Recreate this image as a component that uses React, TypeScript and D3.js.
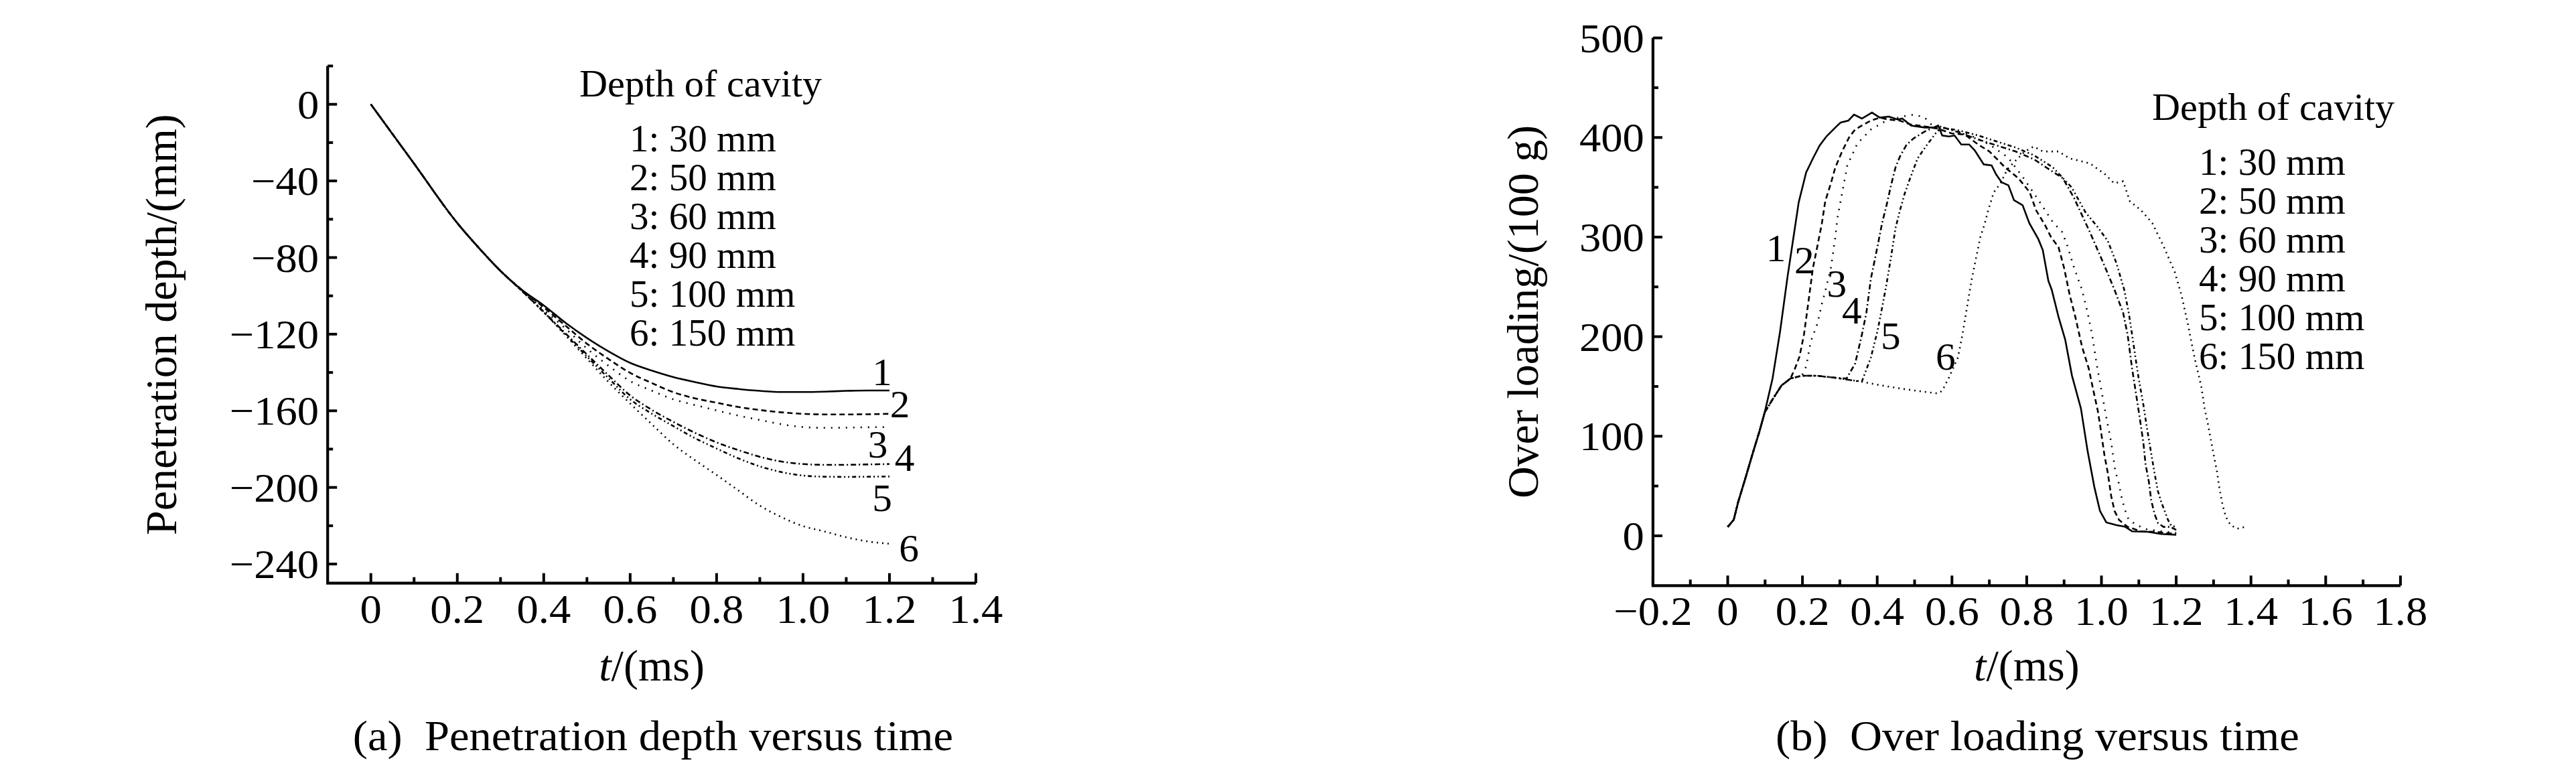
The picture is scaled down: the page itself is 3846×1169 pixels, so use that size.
import React from 'react'
import * as d3 from 'd3'

const W = 3846
const H = 1169
const FONT = '"Liberation Serif", "Times New Roman", serif'

type Pt = [number, number]

// cavity depths (mm) shared by both panels
const cavityDepths = [30, 50, 60, 90, 100, 150]
const dashes = ['none', '8 5', '2 9', '8 4 2 4', '6 4 2 4 2 4', '2 6']

// (a) penetration depth (mm) versus t (ms)
const depthTimes = [0, 0.1, 0.2, 0.25, 0.3, 0.35, 0.4, 0.45, 0.5, 0.55, 0.6, 0.65, 0.7, 0.75, 0.8, 0.85, 0.9, 0.95, 1.0, 1.05, 1.1, 1.15, 1.2]
const depth1 = [0, -31, -62, -75, -87, -97, -105, -114, -122, -129, -135, -139, -142.4, -145, -147.3, -148.6, -149.6, -150.2, -150.2, -150, -149.6, -149.4, -149.4]
const depth2 = [0, -31, -62, -75, -87, -97, -106, -115.5, -125, -133, -140.2, -145.5, -150.3, -153.5, -155.8, -158, -159.6, -160.8, -161.6, -161.9, -161.9, -161.8, -161.6]
const depth3 = [0, -31, -62, -75, -87, -97, -107.2, -117, -127.5, -136.5, -144.5, -149.5, -154, -157, -159.8, -162.5, -164.8, -167, -168.5, -168.9, -168.8, -168.6, -168.5]
const depth4 = [0, -31, -62, -75, -87, -97.5, -108.3, -119.5, -130.6, -141.5, -152, -159.5, -165.8, -171.5, -176.5, -180.5, -184, -186.5, -187.8, -188.2, -188.2, -188, -187.8]
const depth5 = [0, -31, -62, -75, -87, -97.5, -108.5, -120, -131.7, -143, -154, -161.5, -168, -174.3, -179.7, -184.8, -189, -192, -193.8, -194.4, -194.5, -194.4, -194.3]
const depth6 = [0, -31, -62, -75, -87, -97.5, -108.6, -120.5, -132.8, -145, -156.2, -167, -177.5, -185.8, -193.5, -201.5, -209.5, -215.5, -220.2, -223, -226, -228.2, -229.4]
const depthLabels: Pt[] = [[1.183, -146.7], [1.224, -163.5], [1.173, -184.2], [1.235, -191.2], [1.183, -212.5], [1.245, -238.4]]

// (b) over loading (100 g) versus t (ms)
const rise: Pt[] = [[0, 9], [0.016, 16], [0.028, 34], [0.049, 60], [0.067, 83], [0.085, 105], [0.099, 124]]
const plateau: Pt[] = [[0.12, 137], [0.144, 151], [0.168, 158], [0.198, 160.7], [0.24, 160.7], [0.288, 158.7], [0.323, 156.7]]
const load1: Pt[] = [...rise, [0.12, 158], [0.14, 205], [0.16, 260], [0.176, 300], [0.19, 335], [0.21, 365], [0.228, 379], [0.246, 392], [0.264, 401], [0.288, 410], [0.302, 415], [0.323, 417], [0.338, 423], [0.359, 419], [0.386, 425], [0.407, 420], [0.431, 421], [0.455, 418], [0.467, 419], [0.491, 412], [0.527, 410], [0.551, 410], [0.563, 412], [0.574, 402], [0.592, 401], [0.607, 402], [0.625, 393], [0.646, 393], [0.661, 387], [0.685, 373], [0.706, 372], [0.718, 363], [0.733, 355], [0.751, 352], [0.766, 337], [0.789, 332], [0.807, 314], [0.831, 298], [0.843, 287], [0.858, 256], [0.867, 247], [0.885, 220], [0.903, 197], [0.921, 161], [0.945, 128], [0.963, 85], [0.981, 49], [0.996, 25], [1.013, 13.5], [1.04, 10.8], [1.064, 9], [1.082, 4.5], [1.124, 4], [1.16, 1.8], [1.2, 1.1]]
const load2: Pt[] = [...rise, ...plateau.slice(0, 3), [0.18, 168], [0.192, 180], [0.204, 202], [0.216, 235], [0.228, 269], [0.24, 291], [0.252, 314], [0.261, 336], [0.276, 354], [0.288, 370], [0.306, 386], [0.326, 401], [0.341, 408], [0.359, 412], [0.383, 417], [0.407, 420], [0.43, 418], [0.46, 417], [0.49, 413], [0.53, 411], [0.56, 409], [0.6, 404], [0.634, 403], [0.67, 393], [0.7, 386], [0.724, 377], [0.742, 370], [0.778, 359], [0.808, 345], [0.825, 327], [0.849, 312], [0.865, 300], [0.885, 290], [0.9, 269], [0.915, 242], [0.93, 220], [0.948, 190], [0.966, 168], [0.98, 143], [0.99, 126], [0.996, 112], [1.008, 81], [1.017, 63], [1.026, 40], [1.035, 25], [1.047, 16], [1.07, 9], [1.106, 4.5], [1.147, 3.9], [1.2, 1.8]]
const load3: Pt[] = [...rise, ...plateau.slice(0, 4), [0.21, 170], [0.222, 195], [0.24, 213], [0.252, 233], [0.264, 250], [0.276, 269], [0.288, 300], [0.294, 320], [0.303, 338], [0.32, 372], [0.347, 394], [0.383, 408], [0.425, 417], [0.479, 422], [0.5, 423], [0.527, 420], [0.545, 413], [0.6, 408], [0.65, 402], [0.7, 393], [0.75, 380], [0.79, 360], [0.83, 338], [0.87, 315], [0.895, 305], [0.909, 291], [0.927, 269], [0.948, 247], [0.963, 224], [0.975, 202], [0.987, 173], [0.998, 150], [1.013, 119], [1.026, 94], [1.037, 65], [1.047, 52], [1.053, 40], [1.062, 27], [1.073, 16], [1.094, 11], [1.118, 6.7], [1.16, 4.5], [1.2, 3]]
const load4: Pt[] = [...rise, ...plateau.slice(0, 6), [0.318, 158], [0.341, 173], [0.359, 202], [0.371, 224], [0.383, 258], [0.401, 291], [0.413, 314], [0.425, 332], [0.437, 352], [0.449, 370], [0.461, 381], [0.479, 393], [0.497, 399], [0.527, 406], [0.551, 410], [0.568, 411], [0.62, 405], [0.67, 398], [0.72, 392], [0.77, 386], [0.82, 378], [0.86, 368], [0.897, 359], [0.927, 339], [0.969, 305], [1.005, 274], [1.035, 247], [1.058, 224], [1.07, 202], [1.082, 168], [1.094, 139], [1.103, 117], [1.112, 94], [1.118, 72], [1.127, 54], [1.133, 36], [1.142, 22], [1.151, 13], [1.166, 9], [1.184, 9], [1.2, 6]]
const load5: Pt[] = [...rise, ...plateau, [0.359, 155], [0.383, 179], [0.401, 206], [0.413, 229], [0.425, 253], [0.437, 280], [0.449, 309], [0.461, 327], [0.473, 343], [0.488, 359], [0.508, 379], [0.532, 392], [0.556, 404], [0.571, 410], [0.62, 407], [0.67, 402], [0.72, 396], [0.77, 390], [0.82, 382], [0.87, 370], [0.92, 350], [0.957, 325], [0.99, 310], [1.017, 296], [1.04, 274], [1.061, 247], [1.073, 224], [1.082, 202], [1.091, 179], [1.1, 157], [1.112, 132], [1.121, 110], [1.133, 83], [1.142, 63], [1.151, 45], [1.16, 34], [1.169, 25], [1.178, 16], [1.187, 10], [1.2, 9]]
const load6: Pt[] = [...rise, ...plateau, [0.359, 154.7], [0.407, 151.3], [0.455, 148.4], [0.503, 145.7], [0.562, 143], [0.574, 145.7], [0.592, 159], [0.616, 179], [0.628, 202], [0.64, 229], [0.652, 256], [0.664, 278], [0.676, 300], [0.688, 314], [0.697, 327], [0.712, 345], [0.73, 354], [0.748, 368], [0.771, 377], [0.795, 386], [0.819, 391], [0.843, 386], [0.885, 386], [0.915, 379], [0.969, 374], [1.01, 363], [1.034, 354], [1.058, 356], [1.076, 336], [1.106, 327], [1.136, 314], [1.166, 291], [1.196, 265], [1.214, 242], [1.231, 213], [1.249, 179], [1.267, 150], [1.276, 128], [1.285, 112], [1.294, 94], [1.303, 76], [1.309, 65], [1.315, 49], [1.324, 31], [1.333, 19], [1.345, 11], [1.363, 7.2], [1.39, 9.4]]
const loadLabels: Pt[] = [[0.129, 275.7], [0.205, 263.4], [0.292, 239.9], [0.332, 213], [0.436, 187.8], [0.583, 167]]

const fmtT = (v: number) => (Math.abs(v) < 1e-9 ? '0' : v.toFixed(1)).replace('-', '\u2212')
const fmtInt = (v: number) => String(Math.round(v)).replace('-', '\u2212')

function Txt({ x, y, size, anchor = 'start', sx = 1, rotate = 0, children }: any) {
  const tr = rotate ? `translate(${x},${y}) rotate(${rotate})` : `translate(${x},${y}) scale(${sx},1)`
  return (
    <text transform={tr} fontSize={size} textAnchor={anchor} fontFamily={FONT} fill="#000">
      {children}
    </text>
  )
}

interface PanelProps {
  xDomain: [number, number]
  xRange: [number, number]
  yDomain: [number, number]
  yRange: [number, number]
  xMajor: number[]
  xMinor: number[]
  yMajor: number[]
  yMinor: number[]
  yFmt: (v: number) => string
  series: Pt[][]
  curve: d3.CurveFactory
  labels: Pt[]
  yTitle: string
  yTitleX: number
  legendX: number
  legendItemX: number
  legendY: number
  caption: string
  captionX: number
}

function Panel(p: PanelProps) {
  const x = d3.scaleLinear().domain(p.xDomain).range(p.xRange)
  const y = d3.scaleLinear().domain(p.yDomain).range(p.yRange)
  const line = d3.line<Pt>().x(d => x(d[0])).y(d => y(d[1])).curve(p.curve)
  const x0 = p.xRange[0]
  const y0 = p.yRange[0]
  const midX = (p.xRange[0] + p.xRange[1]) / 2
  const midY = (p.yRange[0] + p.yRange[1]) / 2
  return (
    <g>
      {p.series.map((s, i) => (
        <path key={i} d={line(s) || ''} fill="none" stroke="#000" strokeWidth={2.6}
          strokeDasharray={dashes[i]} />
      ))}
      {/* axes */}
      <path d={`M${x0},${p.yRange[1]}V${y0}H${p.xRange[1]}`} fill="none" stroke="#000" strokeWidth={4.2} />
      {p.xMajor.map(v => <line key={'xM' + v} x1={x(v)} x2={x(v)} y1={y0} y2={y0 - 15} stroke="#000" strokeWidth={4} />)}
      {p.xMinor.map(v => <line key={'xm' + v} x1={x(v)} x2={x(v)} y1={y0} y2={y0 - 9} stroke="#000" strokeWidth={4} />)}
      {p.yMajor.map(v => <line key={'yM' + v} x1={x0} x2={x0 + 14} y1={y(v)} y2={y(v)} stroke="#000" strokeWidth={4} />)}
      {p.yMinor.map(v => <line key={'ym' + v} x1={x0} x2={x0 + 8} y1={y(v)} y2={y(v)} stroke="#000" strokeWidth={4} />)}
      {p.xMajor.map(v => (
        <Txt key={'xl' + v} x={x(v)} y={y0 + 59} size={61} anchor="middle" sx={1.06}>{fmtT(v)}</Txt>
      ))}
      {p.yMajor.map(v => (
        <Txt key={'yl' + v} x={x0 - 13} y={y(v) + 21} size={61} anchor="end" sx={1.06}>{p.yFmt(v)}</Txt>
      ))}
      {/* axis titles */}
      <Txt x={p.yTitleX} y={midY} size={66} anchor="middle" rotate={-90}>{p.yTitle}</Txt>
      <text transform={`translate(${midX},1016)`} fontSize={66} textAnchor="middle" fontFamily={FONT}>
        <tspan fontStyle="italic">t</tspan>/(ms)
      </text>
      {/* curve numbers */}
      {p.labels.map((d, i) => (
        <Txt key={'n' + i} x={x(d[0])} y={y(d[1])} size={57} anchor="middle" sx={1.04}>{String(i + 1)}</Txt>
      ))}
      {/* legend */}
      <Txt x={p.legendX} y={p.legendY} size={56} sx={1.04}>Depth of cavity</Txt>
      {cavityDepths.map((c, i) => (
        <Txt key={'lg' + i} x={p.legendItemX} y={p.legendY + 82 + i * 58} size={56} sx={1.02}>
          {`${i + 1}: ${c} mm`}
        </Txt>
      ))}
      <Txt x={p.captionX} y={1120} size={64} anchor="middle" sx={1.04}>{p.caption}</Txt>
    </g>
  )
}

export default function App() {
  const depthSeries: Pt[][] = [depth1, depth2, depth3, depth4, depth5, depth6].map(s =>
    s.map((v, i) => [depthTimes[i], v] as Pt))
  return (
    <svg width={W} height={H} viewBox={`0 0 ${W} ${H}`}
      style={{ position: 'absolute', left: 0, top: 0, background: '#fff', display: 'block' }}>
      <rect width={W} height={H} fill="#fff" />
      <Panel
        xDomain={[-0.1, 1.4]} xRange={[489.2, 1457]}
        yDomain={[-250, 20]} yRange={[870.7, 98.5]}
        xMajor={d3.range(0, 8).map(k => k * 0.2)}
        xMinor={d3.range(0, 7).map(k => 0.1 + k * 0.2)}
        yMajor={d3.range(0, 7).map(k => -40 * k)}
        yMinor={d3.range(0, 7).map(k => 20 - 40 * k)}
        yFmt={fmtInt}
        series={depthSeries}
        curve={d3.curveMonotoneX}
        labels={depthLabels}
        yTitle="Penetration depth/(mm)" yTitleX={263}
        legendX={865} legendItemX={940} legendY={144}
        caption={'(a)\u00a0\u00a0Penetration depth versus time'} captionX={975}
      />
      <Panel
        xDomain={[-0.2, 1.8]} xRange={[2467.9, 3583.9]}
        yDomain={[-50, 500]} yRange={[874.3, 56.6]}
        xMajor={d3.range(0, 11).map(k => -0.2 + k * 0.2)}
        xMinor={d3.range(0, 10).map(k => -0.1 + k * 0.2)}
        yMajor={d3.range(0, 6).map(k => 100 * k)}
        yMinor={d3.range(0, 5).map(k => 50 + 100 * k)}
        yFmt={fmtInt}
        series={[load1, load2, load3, load4, load5, load6]}
        curve={d3.curveLinear}
        labels={loadLabels}
        yTitle="Over loading/(100 g)" yTitleX={2296}
        legendX={3213} legendItemX={3283} legendY={179}
        caption={'(b)\u00a0\u00a0Over loading versus time'} captionX={3042}
      />
    </svg>
  )
}
